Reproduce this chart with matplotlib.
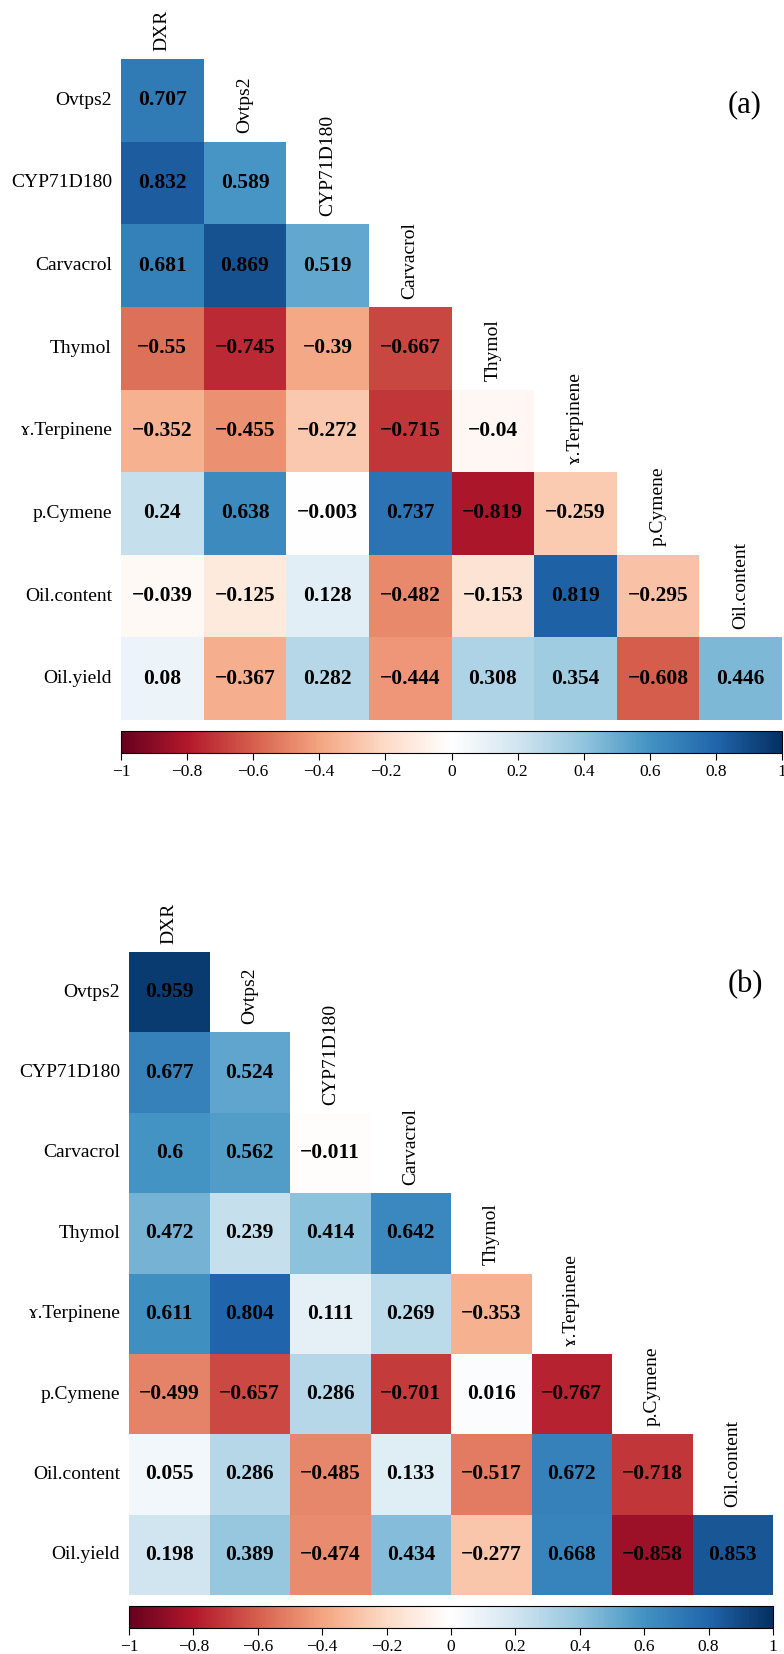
import numpy as np
import matplotlib
matplotlib.use("Agg")
import matplotlib.pyplot as plt
from matplotlib.colors import Normalize, LinearSegmentedColormap
from matplotlib.cm import ScalarMappable

plt.rcParams['font.family'] = ['Liberation Serif', 'DejaVu Serif']

# variable names (rows = names[1:], columns = names[:-1])
names = ["DXR", "Ovtps2", "CYP71D180", "Carvacrol", "Thymol",
         "\u0264.Terpinene", "p.Cymene", "Oil.content", "Oil.yield"]

# lower triangle correlations, panel (a)
corr_a = [
    [0.707],
    [0.832, 0.589],
    [0.681, 0.869, 0.519],
    [-0.55, -0.745, -0.39, -0.667],
    [-0.352, -0.455, -0.272, -0.715, -0.04],
    [0.24, 0.638, -0.003, 0.737, -0.819, -0.259],
    [-0.039, -0.125, 0.128, -0.482, -0.153, 0.819, -0.295],
    [0.08, -0.367, 0.282, -0.444, 0.308, 0.354, -0.608, 0.446],
]

# lower triangle correlations, panel (b)
corr_b = [
    [0.959],
    [0.677, 0.524],
    [0.6, 0.562, -0.011],
    [0.472, 0.239, 0.414, 0.642],
    [0.611, 0.804, 0.111, 0.269, -0.353],
    [-0.499, -0.657, 0.286, -0.701, 0.016, -0.767],
    [0.055, 0.286, -0.485, 0.133, -0.517, 0.672, -0.718],
    [0.198, 0.389, -0.474, 0.434, -0.277, 0.668, -0.858, 0.853],
]

cbar_ticks = [-1, -0.8, -0.6, -0.4, -0.2, 0, 0.2, 0.4, 0.6, 0.8, 1]

# corrplot-style RdBu with a pure white centre
rdbu_colors = ["#67001F", "#B2182B", "#D6604D", "#F4A582", "#FDDBC7",
               "#FFFFFF", "#D1E5F0", "#92C5DE", "#4393C3", "#2166AC",
               "#053061"]

W, H = 784, 1654
fig = plt.figure(figsize=(W / 100, H / 100), dpi=100)
norm = Normalize(-1, 1)
cmap = LinearSegmentedColormap.from_list("corr_rdbu", rdbu_colors, N=256)


def px_axes(x0, y0, x1, y1):
    return fig.add_axes([x0 / W, 1 - y1 / H, (x1 - x0) / W, (y1 - y0) / H])


def fmt(v):
    return f"{v:g}".replace("-", "\u2212")


def draw_panel(corr, box, cbox, tag, tagpos):
    n = len(corr)
    mat = np.full((n, n), np.nan)
    for i, row in enumerate(corr):
        mat[i, :len(row)] = row
    ax = px_axes(*box)
    ax.pcolormesh(np.ma.masked_invalid(mat), cmap=cmap, norm=norm,
                  edgecolors="none")
    ax.set_xlim(0, n)
    ax.set_ylim(n, 0)
    ax.axis("off")
    for i, row in enumerate(corr):
        for j, v in enumerate(row):
            ax.text(j + 0.5, i + 0.5, fmt(v), ha="center", va="center",
                    fontsize=15.5, fontweight="bold", color="black")
        ax.text(-0.11, i + 0.5, names[i + 1], ha="right", va="center",
                fontsize=14)
        # column label above its top-most cell
        ax.text(i + 0.5, i - 0.1, names[i], ha="center", va="bottom",
                rotation=90, fontsize=14)
    fig.text(tagpos[0] / W, 1 - tagpos[1] / H, tag, ha="center",
             va="center", fontsize=22)

    cax = px_axes(*cbox)
    cb = fig.colorbar(ScalarMappable(norm=norm, cmap=cmap), cax=cax,
                      orientation="horizontal", ticks=cbar_ticks)
    cb.ax.set_xticklabels([fmt(t) for t in cbar_ticks])
    cb.ax.tick_params(labelsize=12.5, length=5, width=0.8, pad=3)
    cb.outline.set_linewidth(0.8)


draw_panel(corr_a, (121, 59, 782, 720), (121, 731, 782, 753), "(a)", (745, 105))
draw_panel(corr_b, (129, 952, 773, 1595), (129, 1606, 773, 1628), "(b)", (745, 985))

fig.savefig("out.png", dpi=100)
